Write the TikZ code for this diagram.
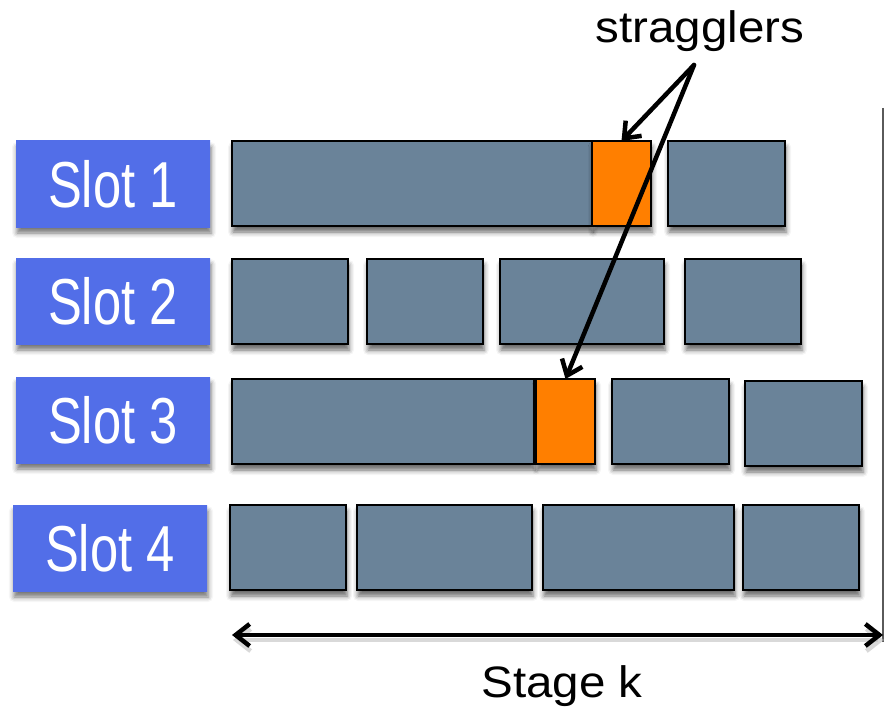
\documentclass[tikz,border=0pt]{standalone}
\usepackage{fontspec}
\setmainfont{Liberation Sans}
\newfontfamily\slotfont[FakeStretch=0.78]{Liberation Sans}
\newfontfamily\notefont[FakeStretch=1.08]{Liberation Sans}
\usetikzlibrary{positioning,calc,arrows.meta,shadows.blur}

\definecolor{taskgray}{RGB}{106,131,153}
\definecolor{lateorange}{RGB}{255,127,0}
\definecolor{slotblue}{RGB}{82,110,232}
\definecolor{slottop}{RGB}{110,138,255}
\definecolor{edgegray}{RGB}{90,90,90}

% flat blue with a lighter band along the top edge
\pgfdeclareverticalshading{slotfade}{100bp}{color(0bp)=(slotblue); color(82bp)=(slotblue); color(100bp)=(slottop)}

\tikzset{
    boxsize/.style 2 args={minimum width=#1bp, minimum height=#2bp},
    task/.style={draw=black, line width=2.5bp, fill=taskgray, inner sep=0, outer sep=0,
        anchor=north west,
        blur shadow={shadow xshift=1bp, shadow yshift=-6bp, shadow blur radius=5bp, shadow opacity=60}},
    late/.style={task, fill=lateorange},
    slot/.style={inner sep=0, outer sep=0, anchor=north west, boxsize={194}{86},
        shading=slotfade, text=white,
        font=\slotfont\fontsize{65bp}{70bp}\selectfont,
        blur shadow={shadow xshift=1bp, shadow yshift=-6bp, shadow blur radius=5bp, shadow opacity=55}},
    note/.style={font=\notefont\fontsize{44bp}{50bp}\selectfont, inner sep=0},
    pointer/.style={line width=4.5bp, line cap=round, -{Straight Barb[length=14bp, width=22bp]}},
    span/.style={line width=4.5bp, {Straight Barb[length=14bp, width=22bp]}-{Straight Barb[length=14bp, width=22bp]}}
}

\begin{document}
\begin{tikzpicture}[x=1bp, y=-1bp]
    \useasboundingbox (0,0) rectangle (884,710);

    % slot labels
    \node[slot] (s1) at (16,141) {Slot 1};
    \node[slot] (s2) at (16,258) {Slot 2};
    \node[slot] (s3) at (16,377) {Slot 3};
    \node[slot] (s4) at (13,505) {Slot 4};

    % slot 1
    \node[task, boxsize={360}{85}] (t11) at (232,141) {};
    \node[late, boxsize={59}{85}] (or1) at (592,141) {};
    \node[task, boxsize={117}{85}] (t12) at (668,141) {};

    % slot 2
    \node[task, boxsize={116}{85}] (t21) at (232,259) {};
    \node[task, boxsize={116}{85}] (t22) at (367,259) {};
    \node[task, boxsize={164}{85}] (t23) at (500,259) {};
    \node[task, boxsize={116}{85}] (t24) at (685,259) {};

    % slot 3
    \node[task, boxsize={302}{85}] (t31) at (232,379) {};
    \node[late, boxsize={59}{85}] (or3) at (536,379) {};
    \node[task, boxsize={117}{85}] (t32) at (612,379) {};
    \node[task, boxsize={117}{85}] (t33) at (745,381) {};

    % slot 4
    \node[task, boxsize={116}{85}] (t41) at (230,505) {};
    \node[task, boxsize={175}{85}] (t42) at (357,505) {};
    \node[task, boxsize={191}{85}] (t43) at (543,505) {};
    \node[task, boxsize={116}{85}] (t44) at (743,505) {};

    % end of the stage
    \coordinate (top) at (883,108);
    \coordinate (bot) at (883,642);
    \draw[edgegray, line width=2bp] (top) -- (bot);

    \coordinate (sl) at (232,635);
    \coordinate (sr) at (883,635);
    \draw[span, black!25, opacity=0.6] ([shift={(1,5)}]sl) -- ([shift={(1,5)}]sr);
    \draw[span] (sl) -- (sr);
    \node[note, anchor=base] (stage) at (562,697) {Stage k};

    % stragglers callout
    \node[note, anchor=base] (strag) at (700,43) {stragglers};
    \coordinate (fork) at (694,65);
    \draw[pointer] (fork) -- (or1.north);
    \draw[pointer] (fork) -- (or3.north);
\end{tikzpicture}
\end{document}
